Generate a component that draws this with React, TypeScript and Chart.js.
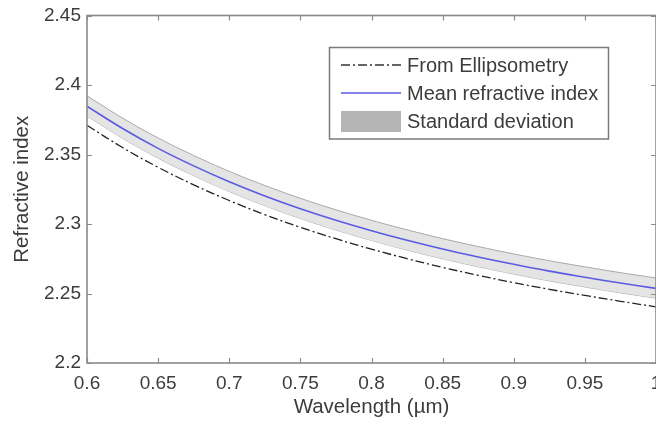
import React, { useEffect, useRef } from "react";
import { Chart, registerables } from "chart.js";

Chart.register(...registerables);

const wavelengths = [0.6, 0.625, 0.65, 0.675, 0.7, 0.725, 0.75, 0.775, 0.8, 0.825, 0.85, 0.875, 0.9, 0.925, 0.95, 0.975, 1.0];
const meanIndex = [2.3847, 2.3687, 2.3544, 2.3418, 2.3304, 2.3202, 2.311, 2.3027, 2.2952, 2.2883, 2.282, 2.2763, 2.271, 2.2661, 2.2617, 2.2575, 2.2537];
const ellipsometry = [2.371, 2.355, 2.3408, 2.3282, 2.3169, 2.3067, 2.2976, 2.2894, 2.2819, 2.2751, 2.2688, 2.2631, 2.2578, 2.253, 2.2486, 2.2444, 2.2404];
const stdUpper = [2.3922, 2.3762, 2.3619, 2.3493, 2.3379, 2.3277, 2.3185, 2.3102, 2.3027, 2.2958, 2.2895, 2.2838, 2.2785, 2.2736, 2.2692, 2.265, 2.2612];
const stdLower = [2.3777, 2.3617, 2.3474, 2.3348, 2.3234, 2.3132, 2.304, 2.2957, 2.2882, 2.2813, 2.275, 2.2693, 2.264, 2.2591, 2.2547, 2.2505, 2.2467];

const xTicks = [0.6, 0.65, 0.7, 0.75, 0.8, 0.85, 0.9, 0.95, 1];
const yTicks = [2.2, 2.25, 2.3, 2.35, 2.4, 2.45];
const legendLabels = ["From Ellipsometry", "Mean refractive index", "Standard deviation"];
const xTitle = "Wavelength (\u00b5m)";
const yTitle = "Refractive index";

const FONT = "'Liberation Sans', Arial, Helvetica, sans-serif";
const TEXT = "#3c3c3c";
const AXIS = "#8a8a8a";
const BLUE = "#5a5ae2";
const DASH = [9, 3, 2, 3];

const fmt = (v: number) => String(parseFloat(Number(v).toFixed(3)));

const framePlugin = {
  id: "frameAndLegend",
  afterDraw(chart: any) {
    const { ctx, chartArea, scales } = chart;
    const { left, right, top, bottom } = chartArea;
    const x = scales.x;
    const y = scales.y;
    ctx.save();
    // ticks (inward)
    ctx.strokeStyle = AXIS;
    ctx.lineWidth = 1.2;
    ctx.beginPath();
    xTicks.forEach((v) => {
      const px = Math.round(x.getPixelForValue(v)) + 0.5;
      ctx.moveTo(px, bottom);
      ctx.lineTo(px, bottom - 5);
      ctx.moveTo(px, top);
      ctx.lineTo(px, top + 5);
    });
    yTicks.forEach((v) => {
      const py = Math.round(y.getPixelForValue(v)) + 0.5;
      ctx.moveTo(left, py);
      ctx.lineTo(left + 5, py);
      ctx.moveTo(right, py);
      ctx.lineTo(right - 5, py);
    });
    ctx.stroke();
    // box
    ctx.lineWidth = 1.6;
    ctx.strokeRect(left, top, right - left, bottom - top);

    // legend
    const lx = 329.5, ly = 47.5, lw = 279, lh = 91.5;
    ctx.fillStyle = "#ffffff";
    ctx.fillRect(lx, ly, lw, lh);
    ctx.strokeStyle = "#7a7a7a";
    ctx.lineWidth = 1.5;
    ctx.strokeRect(lx, ly, lw, lh);
    const rows = [65, 93, 121];
    const sx0 = 341, sx1 = 401, tx = 407;
    // dash-dot
    ctx.strokeStyle = "#333333";
    ctx.lineWidth = 1.3;
    ctx.setLineDash(DASH);
    ctx.beginPath();
    ctx.moveTo(sx0, rows[0]);
    ctx.lineTo(sx1, rows[0]);
    ctx.stroke();
    ctx.setLineDash([]);
    // blue
    ctx.strokeStyle = BLUE;
    ctx.lineWidth = 1.6;
    ctx.beginPath();
    ctx.moveTo(sx0, rows[1]);
    ctx.lineTo(sx1, rows[1]);
    ctx.stroke();
    // gray rect
    ctx.fillStyle = "#b4b4b4";
    ctx.fillRect(sx0, rows[2] - 10, sx1 - sx0, 21);
    // text
    ctx.fillStyle = TEXT;
    ctx.font = `20px ${FONT}`;
    ctx.textBaseline = "middle";
    ctx.textAlign = "left";
    legendLabels.forEach((t, i) => ctx.fillText(t, tx, rows[i] + 1));
    ctx.restore();
  },
};

export default function App() {
  const ref = useRef<HTMLCanvasElement | null>(null);
  useEffect(() => {
    document.body.style.margin = "0";
    const canvas = ref.current;
    if (!canvas) return;
    const mk = (arr: number[]) => wavelengths.map((w, i) => ({ x: w, y: arr[i] }));
    const chart = new Chart(canvas, {
      type: "line",
      data: {
        datasets: [
          {
            label: legendLabels[1],
            data: mk(meanIndex),
            borderColor: BLUE,
            borderWidth: 1.6,
            pointRadius: 0,
            tension: 0.4,
            fill: false,
            order: 0,
          },
          {
            label: legendLabels[0],
            data: mk(ellipsometry),
            borderColor: "#222222",
            borderWidth: 1.3,
            borderDash: DASH,
            pointRadius: 0,
            tension: 0.4,
            fill: false,
            order: 1,
          },
          {
            label: legendLabels[2] + " upper",
            data: mk(stdUpper),
            borderColor: "#a8a8a8",
            borderWidth: 1,
            backgroundColor: "#e4e4e4",
            pointRadius: 0,
            tension: 0.4,
            fill: 3,
            order: 2,
          },
          {
            label: legendLabels[2] + " lower",
            data: mk(stdLower),
            borderColor: "#a8a8a8",
            borderWidth: 1,
            pointRadius: 0,
            tension: 0.4,
            fill: false,
            order: 3,
          },
        ],
      },
      options: {
        animation: false,
        responsive: false,
        maintainAspectRatio: false,
        layout: { padding: { top: 15.5, right: 0, left: 0, bottom: 0 } },
        plugins: {
          legend: { display: false },
          tooltip: { enabled: false },
        },
        scales: {
          x: {
            type: "linear",
            min: 0.6,
            max: 1,
            grid: { display: false, drawTicks: false },
            border: { display: false },
            afterBuildTicks: (s: any) => {
              s.ticks = xTicks.map((v) => ({ value: v }));
            },
            afterFit: (s: any) => {
              s.height = 63;
              s.paddingLeft = 0;
              s.paddingRight = 0;
            },
            ticks: {
              autoSkip: false,
              maxRotation: 0,
              padding: 9,
              color: TEXT,
              font: { family: FONT, size: 19 },
              callback: (v: any) => fmt(v),
            },
            title: {
              display: true,
              text: xTitle,
              color: TEXT,
              font: { family: FONT, size: 20.5 },
              padding: { top: 0, bottom: 6 },
            },
          },
          y: {
            type: "linear",
            min: 2.2,
            max: 2.45,
            grid: { display: false, drawTicks: false },
            border: { display: false },
            afterBuildTicks: (s: any) => {
              s.ticks = yTicks.map((v) => ({ value: v }));
            },
            afterFit: (s: any) => {
              s.width = 87;
              s.paddingTop = 0;
              s.paddingBottom = 0;
            },
            ticks: {
              autoSkip: false,
              padding: 6,
              color: TEXT,
              font: { family: FONT, size: 19 },
              callback: (v: any) => fmt(v),
            },
            title: {
              display: true,
              text: yTitle,
              color: TEXT,
              font: { family: FONT, size: 20.5 },
              padding: { top: 10, bottom: 0 },
            },
          },
        },
      },
      plugins: [framePlugin],
    } as any);
    return () => chart.destroy();
  }, []);
  return (
    <div style={{ position: "absolute", left: 0, top: 0, width: 656, height: 426, background: "#fff" }}>
      <canvas ref={ref} width={656} height={426} style={{ display: "block", width: 656, height: 426 }} />
    </div>
  );
}
